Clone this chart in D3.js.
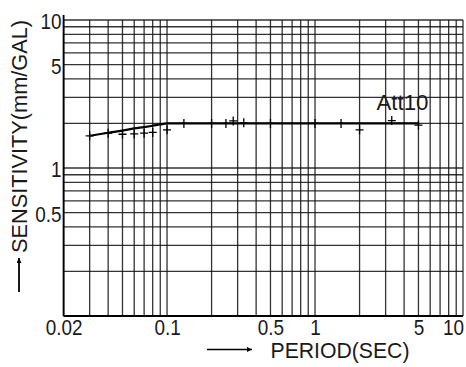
<!DOCTYPE html>
<html>
<head>
<meta charset="utf-8">
<script src="https://d3js.org/d3.v7.min.js"></script>
<style>
  body { margin: 0; background: #fff; }
  svg { display: block; }
  .tickText { font-family: "Liberation Sans", Arial, sans-serif; font-size: 22px; fill: #1a1a1a; }
</style>
</head>
<body>
<div id="chart"></div>
<script>
// data
var pointPeriod = [0.03, 0.04, 0.05, 0.06, 0.07, 0.08, 0.1, 0.13, 0.2, 0.25, 0.28, 0.33, 0.5, 1.0, 1.5, 2.0, 3.3, 5.0];
var pointSens = [1.65, 1.72, 1.69, 1.70, 1.72, 1.74, 1.81, 2.0, 2.0, 2.0, 2.08, 2.02, 2.0, 2.0, 2.0, 1.81, 2.09, 1.95];

var curvePeriod = [0.03, 0.04, 0.05, 0.06, 0.07, 0.08, 0.09, 0.1, 0.15, 0.3, 1, 5];
var curveSens = [1.65, 1.73, 1.79, 1.85, 1.89, 1.93, 1.97, 2.0, 2.0, 2.0, 2.0, 2.0];

var xTickLabels = [0.02, 0.1, 0.5, 1, 5, 10];
var yTickLabels = [0.5, 1, 5, 10];
var curveName = "Att10";

makeChart();

function makeChart() {

  var svgWidth = 466;
  var svgHeight = 367;

  var margin = { top: 20, right: 3, bottom: 51, left: 63.6 };
  var width = svgWidth - margin.left - margin.right;
  var height = svgHeight - margin.top - margin.bottom;

  var svg = d3.select("#chart")
    .append("svg")
    .attr("width", svgWidth)
    .attr("height", svgHeight);

  var chartGroup = svg.append("g")
    .attr("transform", `translate(${margin.left}, ${margin.top})`);

  // Step 1: scales (log on both axes)
  var xLogScale = d3.scaleLog()
    .domain([0.02, 10])
    .range([0, width]);

  var yLogScale = d3.scaleLog()
    .domain([0.1, 10])
    .range([height, 0]);

  // Step 2: grid lines
  chartGroup.append("g")
    .selectAll("line")
    .data(xLogScale.ticks())
    .enter()
    .append("line")
    .attr("x1", d => xLogScale(d))
    .attr("x2", d => xLogScale(d))
    .attr("y1", 0)
    .attr("y2", height)
    .attr("stroke", "#111")
    .attr("stroke-width", 1.3)
    .attr("opacity", 0.85);

  chartGroup.append("g")
    .selectAll("line")
    .data(yLogScale.ticks())
    .enter()
    .append("line")
    .attr("x1", 0)
    .attr("x2", width)
    .attr("y1", d => yLogScale(d))
    .attr("y2", d => yLogScale(d))
    .attr("stroke", "#111")
    .attr("stroke-width", 1.3)
    .attr("opacity", 0.85);

  // Step 3: axes
  var bottomAxis = d3.axisBottom(xLogScale)
    .tickValues(xTickLabels)
    .tickFormat(d3.format("~g"))
    .tickSize(0)
    .tickPadding(3);

  var leftAxis = d3.axisLeft(yLogScale)
    .tickValues(yTickLabels)
    .tickFormat(d3.format("~g"))
    .tickSize(0)
    .tickPadding(2);

  var xAxisGroup = chartGroup.append("g")
    .attr("transform", `translate(0, ${height})`)
    .call(bottomAxis);

  var yAxisGroup = chartGroup.append("g")
    .call(leftAxis);

  [xAxisGroup, yAxisGroup].forEach(function (g) {
    g.select(".domain").remove();
    g.selectAll("text")
      .attr("class", "tickText")
      .attr("font-size", null)
      .attr("font-family", null)
      .each(function () {
        var w = this.getComputedTextLength();
        d3.select(this)
          .attr("textLength", w * 0.86)
          .attr("lengthAdjust", "spacingAndGlyphs");
      });
  });
  yAxisGroup.selectAll("text").attr("dy", "0.4em");

  // last x label sits against the right edge
  xAxisGroup.selectAll("text")
    .filter(d => d === 10)
    .attr("text-anchor", "end")
    .attr("x", 0.5);

  // frame lines
  chartGroup.append("line")
    .attr("x1", 0).attr("x2", width)
    .attr("y1", height).attr("y2", height)
    .attr("stroke", "#000")
    .attr("stroke-width", 2);

  chartGroup.append("line")
    .attr("x1", 0).attr("x2", 0)
    .attr("y1", -5).attr("y2", height)
    .attr("stroke", "#000")
    .attr("stroke-width", 1.8);

  // Step 4: the response curve
  var curveData = curvePeriod.map((p, i) => ({ period: p, sens: curveSens[i] }));

  var line = d3.line()
    .x(d => xLogScale(d.period))
    .y(d => yLogScale(d.sens))
    .curve(d3.curveMonotoneX);

  chartGroup.append("path")
    .datum(curveData)
    .attr("d", line)
    .attr("fill", "none")
    .attr("stroke", "#000")
    .attr("stroke-width", 2.2);

  // Step 5: measured points as crosses
  var pointData = pointPeriod.map((p, i) => ({ period: p, sens: pointSens[i] }));

  chartGroup.append("g")
    .selectAll("path")
    .data(pointData)
    .enter()
    .append("path")
    .attr("transform", d => `translate(${xLogScale(d.period)}, ${yLogScale(d.sens)})`)
    .attr("d", "M-4,0H4M0,-4.5V4.5")
    .attr("stroke", "#000")
    .attr("stroke-width", 1.3);

  // curve name
  chartGroup.append("text")
    .attr("x", xLogScale(2.6))
    .attr("y", yLogScale(2) - 13)
    .attr("class", "tickText")
    .attr("fill", "#333")
    .attr("textLength", 52)
    .attr("lengthAdjust", "spacingAndGlyphs")
    .text(curveName);

  // Step 6: axis titles with arrows
  svg.append("defs").append("marker")
    .attr("id", "head")
    .attr("viewBox", "0 0 10 10")
    .attr("refX", 10)
    .attr("refY", 5)
    .attr("markerWidth", 7)
    .attr("markerHeight", 5)
    .attr("markerUnits", "userSpaceOnUse")
    .attr("orient", "auto")
    .append("path")
    .attr("d", "M0,0L10,5L0,10Z")
    .attr("fill", "#000");

  svg.append("line")
    .attr("x1", 207).attr("x2", 252)
    .attr("y1", 349.5).attr("y2", 349.5)
    .attr("stroke", "#000")
    .attr("stroke-width", 1.5)
    .attr("marker-end", "url(#head)");

  svg.append("text")
    .attr("x", 270.5)
    .attr("y", 358)
    .attr("class", "tickText")
    .attr("textLength", 139)
    .attr("lengthAdjust", "spacingAndGlyphs")
    .text("PERIOD(SEC)");

  svg.append("line")
    .attr("x1", 19).attr("x2", 19)
    .attr("y1", 292).attr("y2", 258)
    .attr("stroke", "#000")
    .attr("stroke-width", 1.8)
    .attr("marker-end", "url(#head)");

  svg.append("text")
    .attr("transform", "translate(27, 253) rotate(-90)")
    .attr("class", "tickText")
    .attr("textLength", 233)
    .attr("lengthAdjust", "spacingAndGlyphs")
    .text("SENSITIVITY(mm/GAL)");
}
</script>
</body>
</html>
